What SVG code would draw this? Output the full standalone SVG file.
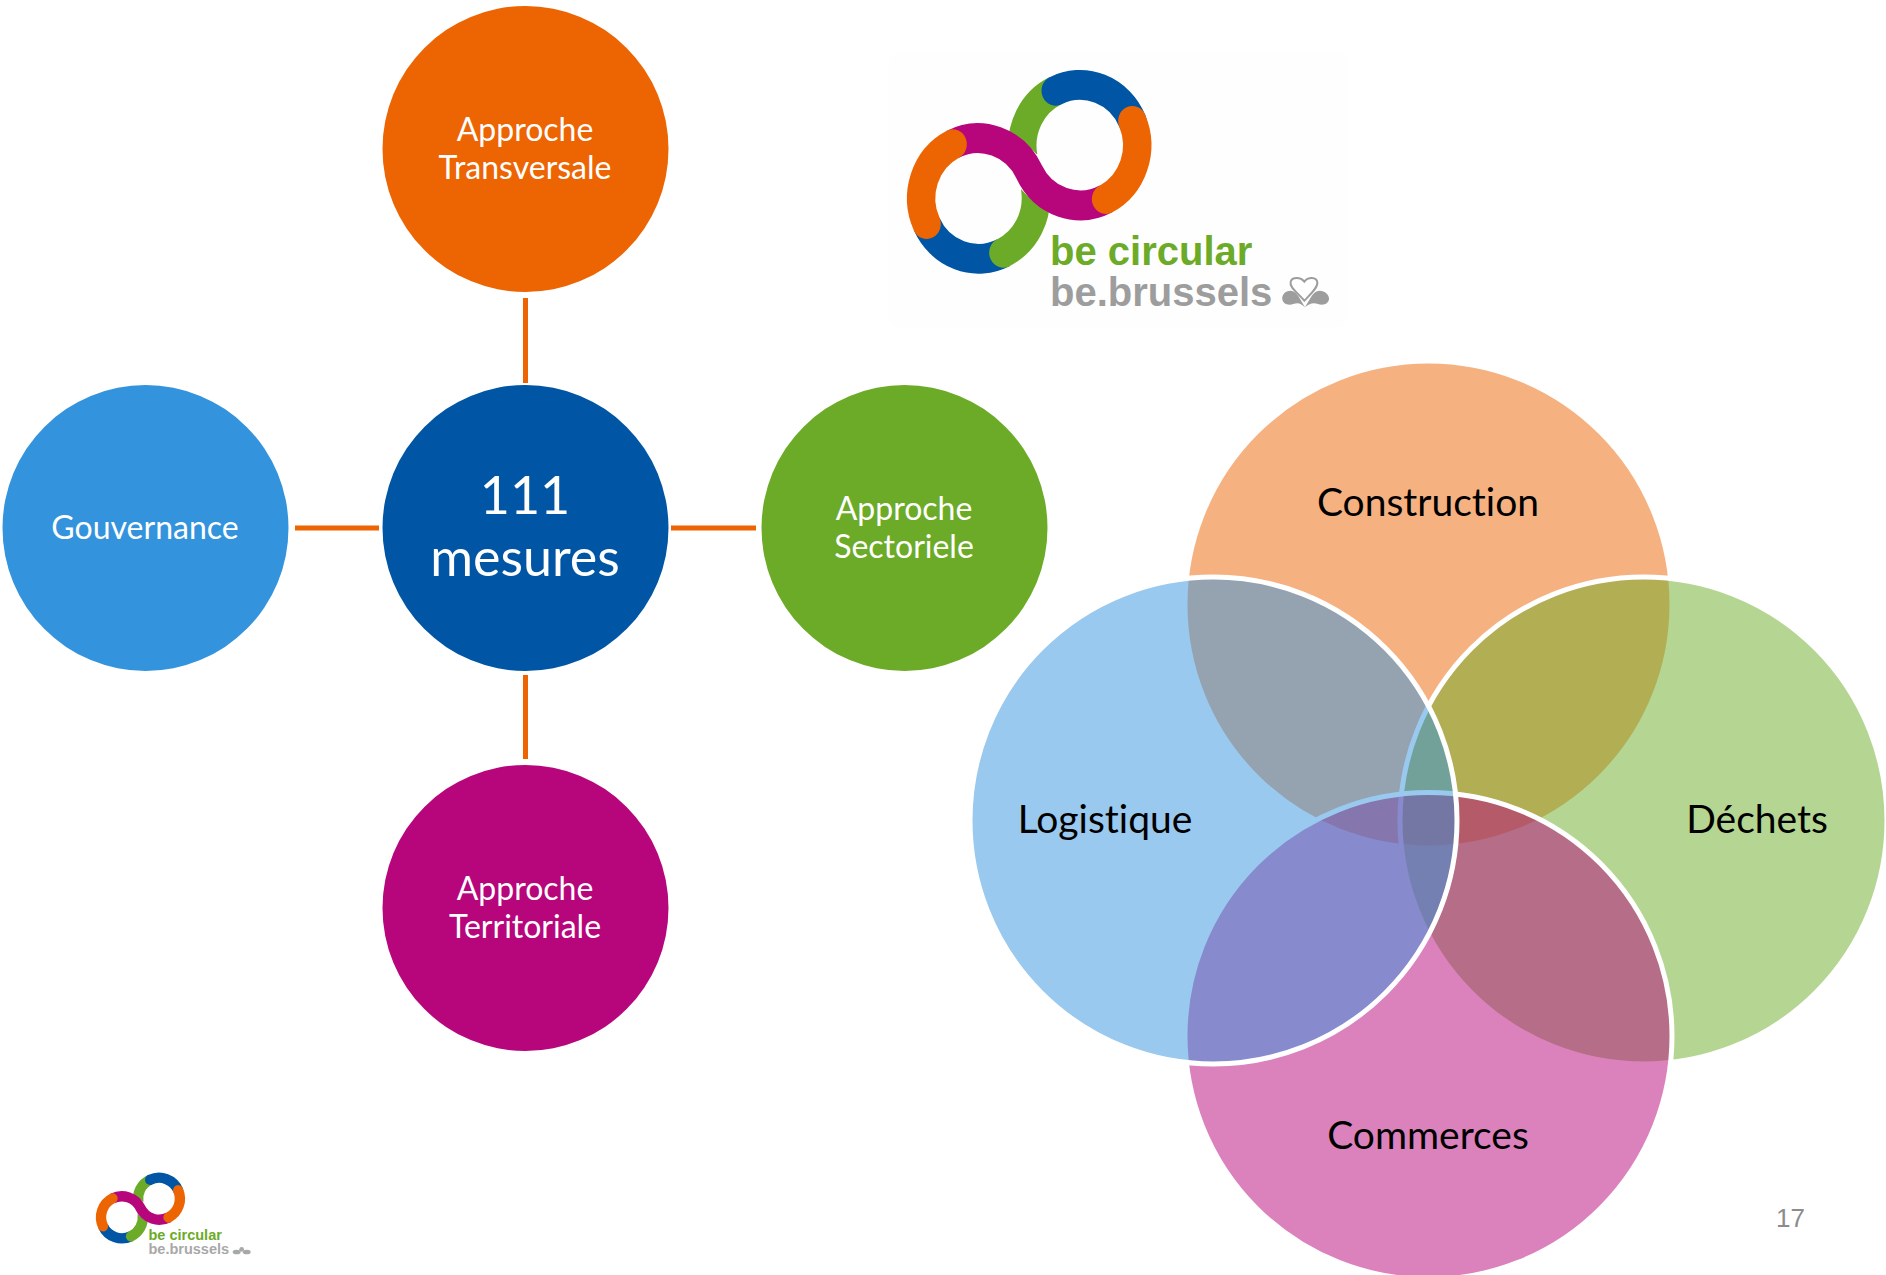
<svg xmlns="http://www.w3.org/2000/svg" xmlns:xlink="http://www.w3.org/1999/xlink" width="1886" height="1275" viewBox="0 0 1886 1275">
<style>
text{font-family:"Lato","Open Sans","Liberation Sans",sans-serif;font-variant-ligatures:none}
.w{fill:#fff;font-size:32px;text-anchor:middle}
.b{font-size:52px}
.k{fill:#000;font-size:39px;text-anchor:middle}
.c{stroke:#ED6403;stroke-width:5;fill:none}
.v{fill-opacity:.5;stroke:#fff;stroke-width:5}
.r{fill:none;stroke-width:85}
.lg{font-family:"Liberation Sans",Arial,sans-serif;font-weight:700}
</style>
<defs>
<g id="rings"><g transform="scale(1,1.0554)">
<path class="r" stroke="#6CAB27" d="M527,115.600A171.500,171.500 0 0 0 430,303.200"/>
<path class="r" stroke="#0055A5" stroke-linecap="round" d="M527,115.600A171.500,171.500 0 0 1 757,201.800"/>
<path class="r" stroke="#0055A5" d="M140,494.600A171.500,171.500 0 0 0 370,576.100"/>
<path class="r" stroke="#6CAB27" stroke-linecap="round" d="M370,576.100A171.500,171.500 0 0 0 466,398"/>
<path fill="none" stroke="#fff" stroke-width="98" d="M385,293.700A171.500,171.500 0 0 1 447.500,346.300A171.500,171.500 0 0 0 510,402.700"/>
<path class="r" stroke="#B7057C" d="M218,268.100A171.500,171.500 0 0 1 447.500,346.300A171.500,171.500 0 0 0 678,423.500"/>
<path class="r" stroke="#ED6403" stroke-linecap="round" d="M218,268.100A171.500,171.500 0 0 0 140,494.600"/>
<path class="r" stroke="#ED6403" stroke-linecap="round" d="M757,201.800A171.500,171.500 0 0 1 678,423.500"/>
</g></g>
</defs>
<rect x="888" y="52" width="460" height="276" rx="14" fill="#fefefe"/>
<g id="connectors">
<line class="c" x1="525.500" y1="298" x2="525.500" y2="383"/>
<line class="c" x1="525.500" y1="675" x2="525.500" y2="759"/>
<line class="c" x1="295" y1="528" x2="379" y2="528"/>
<line class="c" x1="671" y1="528" x2="756" y2="528"/>
</g>
<g id="node-transversale"><circle cx="525.500" cy="149" r="143" fill="#ED6403"/><text class="w" x="525" y="141">Approche</text><text class="w" x="525" y="179">Transversale</text></g>
<g id="node-gouvernance"><circle cx="145.500" cy="528" r="143" fill="#3393DD"/><text class="w" x="145" y="539">Gouvernance</text></g>
<g id="node-mesures"><circle cx="525.500" cy="528" r="143" fill="#0055A5"/><text class="w b" x="525" y="514">111</text><text class="w b" x="525" y="576">mesures</text></g>
<g id="node-sectoriele"><circle cx="904.500" cy="528" r="143" fill="#6CAB27"/><text class="w" x="904" y="520">Approche</text><text class="w" x="904" y="558">Sectoriele</text></g>
<g id="node-territoriale"><circle cx="525.500" cy="908" r="143" fill="#B7057C"/><text class="w" x="525" y="900">Approche</text><text class="w" x="525" y="938">Territoriale</text></g>
<g id="venn-construction"><circle class="v" cx="1428.500" cy="604.500" r="243.500" fill="#ED6403"/></g>
<g id="venn-dechets"><circle class="v" cx="1643.500" cy="820.500" r="243.500" fill="#6CAB27"/></g>
<g id="venn-commerces"><circle class="v" cx="1428.500" cy="1036" r="243.500" fill="#B7057C"/></g>
<g id="venn-logistique"><circle class="v" cx="1213.500" cy="820.500" r="243.500" fill="#3393DD"/></g>
<g id="venn-labels">
<text class="k" x="1428" y="516">Construction</text>
<text class="k" x="1105" y="833">Logistique</text>
<text class="k" x="1757" y="833">Déchets</text>
<text class="k" x="1428" y="1149">Commerces</text>
</g>
<g id="logo-large">
<g transform="translate(880,50) scale(.33333)"><use href="#rings"/></g>
<text class="lg" x="1050" y="265" font-size="40" fill="#6CAB27">be circular</text>
<text class="lg" x="1050" y="306" font-size="40" fill="#9D9D9D">be.brussels</text>
<g transform="translate(880,50) scale(.33333)" fill="#9D9D9D">
<path d="M1275,772C1262,750 1250,722 1232,722C1215,722 1205,735 1207,748C1209,762 1225,768 1240,762C1255,756 1265,762 1275,772Z"/>
<path d="M1275,772C1288,750 1300,722 1318,722C1335,722 1349,735 1347,748C1345,762 1329,768 1314,762C1299,756 1285,762 1275,772Z"/>
<path d="M1273,752C1250,725 1228,712 1232,695C1236,680 1262,680 1273,695C1284,680 1310,680 1312,697C1314,712 1294,730 1273,752Z" fill="#fff" stroke="#9D9D9D" stroke-width="6"/>
</g>
</g>
<g id="logo-small">
<g transform="translate(86,1165.500) scale(.1217,.1163)"><use href="#rings"/></g>
<text class="lg" x="148.500" y="1240" font-size="14.500" fill="#6CAB27">be circular</text>
<text class="lg" x="148.500" y="1254" font-size="14.500" fill="#A8A8A8">be.brussels</text>
<g transform="translate(80,1150) scale(.33333)" fill="#A8A8A8"><ellipse cx="470" cy="306" rx="12" ry="7"/><ellipse cx="500" cy="306" rx="12" ry="7"/><circle cx="485" cy="298" r="7"/></g>
</g>
<text id="page-number" x="1776" y="1227" font-size="26" fill="#8C8C8C" style="font-family:'Liberation Sans',Arial,sans-serif">17</text>
</svg>
